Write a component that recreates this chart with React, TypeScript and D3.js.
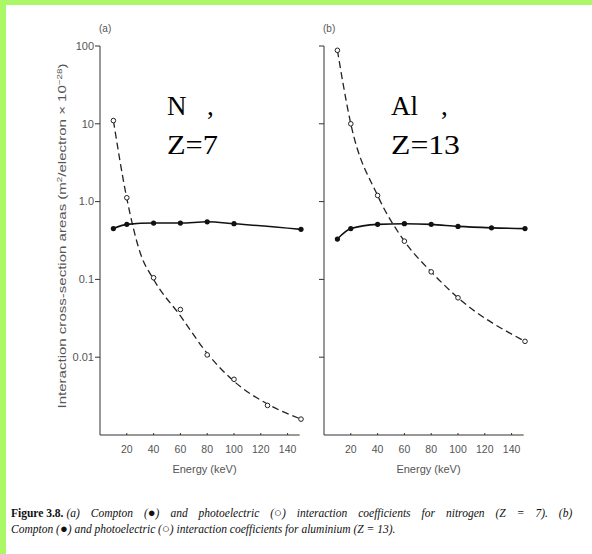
import React from 'react';
import * as d3 from 'd3';

// energies (keV)
const comptonEnergyN = [10, 20, 40, 60, 80, 100, 150];
const comptonN = [0.45, 0.51, 0.53, 0.53, 0.55, 0.52, 0.44];
const photoEnergyN = [10, 20, 40, 60, 80, 100, 125, 150];
const photoN = [11, 1.12, 0.105, 0.041, 0.0107, 0.0052, 0.0024, 0.0016];
// dashed fit
const fitEnergyN = [10, 20, 30, 40, 60, 80, 100, 125, 150];
const fitN = [11, 1.1, 0.22, 0.1, 0.034, 0.0112, 0.0049, 0.0025, 0.0016];

const comptonEnergyAl = [10, 20, 40, 60, 80, 100, 125, 150];
const comptonAl = [0.33, 0.45, 0.51, 0.52, 0.51, 0.48, 0.46, 0.45];
const photoEnergyAl = [10, 20, 40, 60, 80, 100, 150];
const photoAl = [88, 10, 1.2, 0.31, 0.125, 0.058, 0.016];

const xTicks = [20, 40, 60, 80, 100, 120, 140];
const yTicks = [100, 10, 1, 0.1, 0.01];
const yTickLabels = ['100', '10', '1.0', '0.1', '0.01'];

const W = 592;
const H = 554;
const SANS = 'Liberation Sans, Arial, sans-serif';
const SERIF = 'Liberation Serif, Times New Roman, serif';

type PanelProps = {
  left: number;
  tag: string;
  showYLabels: boolean;
  compE: number[];
  comp: number[];
  photoE: number[];
  photo: number[];
  fitE: number[];
  fit: number[];
  name: string;
  zText: string;
  nameComma: number;
  zLen: number;
};

const Panel = (p: PanelProps) => {
  const x = d3.scaleLinear().domain([0, 150]).range([p.left, p.left + 201]);
  const y = d3.scaleLog().domain([0.001, 100]).range([435, 46]);
  const line = d3
    .line<[number, number]>()
    .x((d) => x(d[0]))
    .y((d) => y(d[1]))
    .curve(d3.curveMonotoneX);
  const compPts = p.compE.map((e, i) => [e, p.comp[i]] as [number, number]);
  const photoPts = p.photoE.map((e, i) => [e, p.photo[i]] as [number, number]);
  const fitPts = p.fitE.map((e, i) => [e, p.fit[i]] as [number, number]);
  const axisCol = '#333';
  const textCol = '#555';
  return (
    <g>
      <text x={p.left - 1} y={32} fontSize={10} fill={textCol} fontFamily={SANS}>
        {p.tag}
      </text>
      {/* axes */}
      <path d={`M${p.left},${y(100)} V${y(0.001)} H${x(149)}`} fill="none" stroke={axisCol} strokeWidth={1} />
      {yTicks.map((t, i) => (
        <g key={t}>
          <line x1={p.left - 5} x2={p.left} y1={y(t)} y2={y(t)} stroke={axisCol} />
          {p.showYLabels && (
            <text x={p.left - 6} y={y(t)} dy="0.35em" textAnchor="end" fontSize={11} fill={textCol} fontFamily={SANS}>
              {yTickLabels[i]}
            </text>
          )}
        </g>
      ))}
      {xTicks.map((t) => (
        <g key={t}>
          <line x1={x(t)} x2={x(t)} y1={y(0.001)} y2={y(0.001) - 2} stroke={axisCol} />
          <text x={x(t)} y={y(0.001) + 18} textAnchor="middle" fontSize={10.5} fill={textCol} fontFamily={SANS}>
            {t}
          </text>
        </g>
      ))}
      <text x={x(78)} y={473} textAnchor="middle" fontSize={11} fill={textCol} fontFamily={SANS}>
        Energy (keV)
      </text>
      {/* photoelectric: dashed fit + open circles */}
      <path d={line(fitPts) || ''} fill="none" stroke="#222" strokeWidth={1.3} strokeDasharray="7,4" />
      {photoPts.map((d, i) => (
        <circle key={i} cx={x(d[0])} cy={y(d[1])} r={2.3} fill="#fff" stroke="#222" strokeWidth={1} />
      ))}
      {/* compton: solid line + filled dots */}
      <path d={line(compPts) || ''} fill="none" stroke="#111" strokeWidth={1.6} />
      {compPts.map((d, i) => (
        <circle key={i} cx={x(d[0])} cy={y(d[1])} r={2.6} fill="#111" />
      ))}
      <g fontFamily={SERIF} fontSize={27} fill="#000">
        <text x={x(50)} y={115}>{p.name}</text>
        <text x={x(50) + p.nameComma} y={115}>,</text>
        <text x={x(50)} y={154} textLength={p.zLen} lengthAdjust="spacingAndGlyphs">
          {p.zText}
        </text>
      </g>
    </g>
  );
};

export default function App() {
  const cap = { fontFamily: SERIF, fontSize: 11.5, fill: '#111' };
  const ws = 8.1;
  return (
    <svg width={W} height={H} style={{ position: 'absolute', left: 0, top: 0, background: '#fff' }}>
      <rect x={0} y={0} width={W} height={H} fill="#fff" />
      <rect x={0} y={0} width={W} height={5} fill="#aaf768" />
      <rect x={0} y={0} width={6} height={H} fill="#aaf768" />
      <text
        transform="translate(66,236) rotate(-90)"
        textAnchor="middle"
        fontSize={11.5}
        fill="#555"
        fontFamily={SANS}
        textLength={345}
        lengthAdjust="spacingAndGlyphs"
      >
        Interaction cross-section areas (m<tspan dy={-4} fontSize={7.5}>2</tspan>
        <tspan dy={4}>/electron × 10</tspan>
        <tspan dy={-4} fontSize={7.5}>−28</tspan>
        <tspan dy={4}>)</tspan>
      </text>
      <Panel
        left={100}
        tag="(a)"
        showYLabels
        compE={comptonEnergyN}
        comp={comptonN}
        photoE={photoEnergyN}
        photo={photoN}
        fitE={fitEnergyN}
        fit={fitN}
        name="N"
        zText="Z=7"
        nameComma={40}
        zLen={51}
      />
      <Panel
        left={324}
        tag="(b)"
        showYLabels={false}
        compE={comptonEnergyAl}
        comp={comptonAl}
        photoE={photoEnergyAl}
        photo={photoAl}
        fitE={photoEnergyAl}
        fit={photoAl}
        name="Al"
        zText="Z=13"
        nameComma={50}
        zLen={69}
      />
      <text x={11} y={517} {...cap}>
        <tspan fontWeight="bold">{'Figure 3.8.  '}</tspan>
        <tspan fontStyle="italic" wordSpacing={ws}>{'(a) Compton ('}</tspan>
        <tspan fontSize={13}>●</tspan>
        <tspan fontStyle="italic" wordSpacing={ws}>{') and photoelectric ('}</tspan>
        <tspan fontSize={13}>○</tspan>
        <tspan fontStyle="italic" wordSpacing={ws}>{') interaction coefficients for nitrogen (Z = 7).  (b)'}</tspan>
      </text>
      <text x={11} y={533} {...cap}>
        <tspan fontStyle="italic">{'Compton ('}</tspan>
        <tspan fontSize={13}>●</tspan>
        <tspan fontStyle="italic">{') and photoelectric ('}</tspan>
        <tspan fontSize={13}>○</tspan>
        <tspan fontStyle="italic">{') interaction coefficients for aluminium (Z = 13).'}</tspan>
      </text>
    </svg>
  );
}
